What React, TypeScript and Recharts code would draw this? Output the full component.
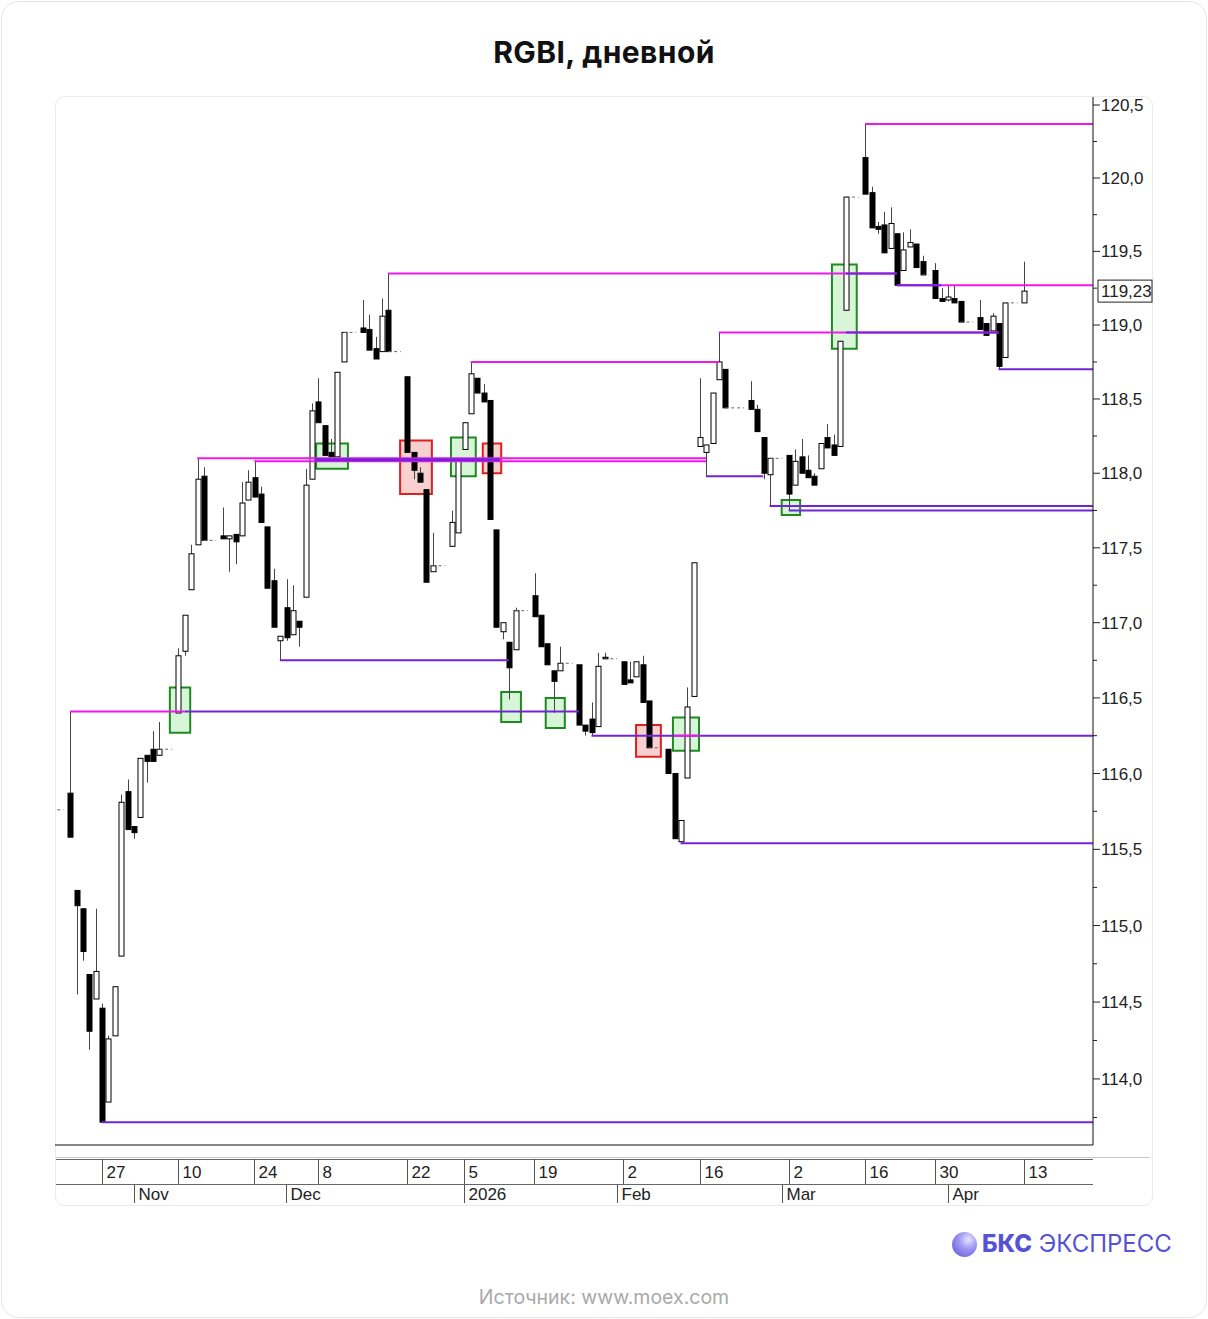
import React from 'react';
import {
  ComposedChart,
  Bar,
  Line,
  XAxis,
  YAxis,
  ReferenceLine,
  ReferenceArea,
} from 'recharts';

// ---- daily slots (null = no session that day) ----
const OPEN = [
  115.87, 115.23, 115.11, 114.68, 114.52, 114.46, 113.85, 114.28, 114.8, 115.88,
  115.65, 115.71, 116.12, 116.16, 116.12, null, null, 116.4, 116.81, 117.22,
  117.52, 117.98, null, null, 117.58, 117.56, 117.59, 117.58, 117.82, 117.97,
  117.86, 117.64, 117.28, 116.88, 117.1, 116.92, 117.01, 117.17, 117.96, 118.48,
  118.32, 118.14, 118.11, 118.75, null, null, 118.98, 118.97, 118.84, 118.82,
  119.1, null, null, 118.65, 118.14, 118.0, 117.89, 117.34, null, null,
  117.51, 117.6, 118.16, 118.4, 118.64, 118.54, 118.49, 117.62, 116.94, 116.87,
  116.82, null, null, 117.18, 117.05, 116.86, 116.68, 116.68, null, null,
  116.72, 116.32, 116.36, 116.31, 116.77, null, null, 116.74, 116.62, 116.64,
  116.72, 116.48, null, null, 116.16, 116.0, 115.55, 115.97, 116.51, 118.18,
  118.14, 118.2, 118.63, 118.7, null, null, null, 118.49, 118.43, 118.24,
  117.99, null, null, 118.12, 117.92, 118.11, 118.02, 117.98, 118.03, 118.24,
  118.19, 118.18, 119.1, null, null, 120.14, 119.9, 119.67, 119.68, 119.52,
  119.62, 119.37, 119.53, 119.55, 119.43, null, 119.37, 119.18, 119.17, 119.18,
  119.16, null, null, 119.05, 119.01, 118.96, 119.01, 118.78, null, null,
  119.15,
];
const HIGH = [
  116.41, 115.23, 115.11, 114.68, 115.11, 114.49, 114.28, 114.6, 115.86, 115.96,
  115.65, 116.1, 116.12, 116.28, 116.34, null, null, 116.83, 117.05, 117.52,
  118.1, 118.04, null, null, 117.77, 117.58, 117.59, 117.94, 118.02, 118.09,
  117.91, 117.64, 117.36, 116.91, 117.29, 117.25, 117.01, 118.03, 118.47, 118.64,
  118.32, 118.23, 118.68, 118.95, null, null, 119.17, 119.07, 118.92, 119.18,
  119.35, null, null, 118.65, 118.14, 118.04, 117.89, 117.6, null, null,
  117.75, 118.09, 118.34, 118.75, 118.64, 118.6, 118.49, 117.62, 117.0, 116.87,
  117.1, null, null, 117.33, 117.05, 116.86, 116.68, 116.84, null, null,
  116.72, 116.32, 116.47, 116.8, 116.8, null, null, 116.74, 116.74, 116.74,
  116.78, 116.48, null, null, 116.16, 116.0, 115.69, 116.57, 117.4, 118.64,
  118.19, 118.54, 118.95, 118.7, null, null, null, 118.62, 118.46, 118.24,
  118.1, null, null, 118.12, 118.16, 118.23, 118.12, 118.0, 118.2, 118.33,
  118.26, 118.89, 119.87, null, null, 120.37, 119.94, 119.7, 119.77, 119.8,
  119.62, 119.63, 119.65, 119.55, 119.47, null, 119.42, 119.25, 119.27, 119.27,
  119.16, null, null, 119.17, 119.01, 119.08, 119.01, 119.15, null, null,
  119.43,
];
const LOW = [
  115.58, 114.55, 114.77, 114.19, 114.52, 113.72, 113.85, 114.28, 114.8, 115.63,
  115.57, 115.71, 115.94, 116.08, 116.12, null, null, 116.4, 116.78, 117.22,
  117.52, 117.55, null, null, 117.56, 117.34, 117.39, 117.58, 117.82, 117.84,
  117.67, 117.23, 116.97, 116.75, 116.88, 116.92, 116.84, 117.17, 117.96, 118.34,
  118.12, 118.11, 118.11, 118.75, null, null, 118.95, 118.83, 118.77, 118.82,
  118.82, null, null, 118.14, 117.96, 117.94, 117.27, 117.34, null, null,
  117.51, 117.6, 118.16, 118.4, 118.54, 118.48, 117.69, 116.97, 116.89, 116.49,
  116.82, null, null, 117.04, 116.84, 116.72, 116.4, 116.68, null, null,
  116.32, 116.25, 116.25, 116.31, 116.76, null, null, 116.59, 116.6, 116.64,
  116.47, 116.17, null, null, 116.0, 115.57, 115.54, 115.97, 116.51, 118.18,
  117.98, 118.2, 118.63, 118.44, null, null, null, 118.43, 118.28, 117.96,
  117.78, null, null, 117.75, 117.92, 118.0, 117.97, 117.92, 118.03, 118.17,
  118.12, 118.18, 119.1, null, null, 119.89, 119.66, 119.62, 119.49, 119.52,
  119.27, 119.37, 119.53, 119.39, 119.34, null, 119.18, 119.16, 119.16, 119.15,
  119.02, null, null, 118.97, 118.93, 118.96, 118.7, 118.78, null, null,
  119.15,
];
const CLOSE = [
  115.58, 115.13, 114.83, 114.31, 114.7, 113.72, 114.26, 114.6, 115.81, 115.63,
  115.61, 116.1, 116.08, 116.08, 116.16, null, null, 116.78, 117.05, 117.46,
  117.96, 117.55, null, null, 117.56, 117.58, 117.54, 117.8, 117.94, 117.84,
  117.67, 117.23, 116.97, 116.91, 116.9, 117.08, 116.97, 117.92, 118.42, 118.34,
  118.12, 118.11, 118.68, 118.95, null, null, 118.95, 118.83, 118.77, 119.06,
  118.82, null, null, 118.14, 118.02, 117.94, 117.27, 117.38, null, null,
  117.67, 118.09, 118.34, 118.67, 118.54, 118.48, 117.69, 116.97, 117.0, 116.7,
  117.08, null, null, 117.04, 116.84, 116.72, 116.61, 116.73, null, null,
  116.32, 116.28, 116.27, 116.71, 116.76, null, null, 116.59, 116.6, 116.74,
  116.47, 116.17, null, null, 116.0, 115.57, 115.69, 116.44, 117.4, 118.24,
  118.19, 118.54, 118.75, 118.44, null, null, null, 118.43, 118.28, 118.0,
  118.1, null, null, 117.86, 118.08, 118.0, 117.97, 117.92, 118.2, 118.17,
  118.12, 118.89, 119.87, null, null, 119.89, 119.66, 119.65, 119.49, 119.69,
  119.27, 119.51, 119.56, 119.39, 119.34, null, 119.18, 119.16, 119.19, 119.15,
  119.02, null, null, 118.97, 118.93, 119.06, 118.72, 119.15, null, null,
  119.23,
];
const PREV_CLOSE = 115.76; // close before the first visible session
const LAST_PRICE = 119.23;

// ---- time axis ----
const WEEK_SLOTS = [5, 17, 29, 39, 53, 62, 73, 87, 99, 113, 125, 136, 150];
const WEEK_LABELS = ['27', '10', '24', '8', '22', '5', '19', '2', '16', '2', '16', '30', '13'];
const MONTH_SLOTS = [10, 34, 62, 86, 112, 138];
const MONTH_LABELS = ['Nov', 'Dec', '2026', 'Feb', 'Mar', 'Apr'];
const X_MIN = -2.36;
const X_MAX = 160.85;

// ---- price axis (log) ----
const PRICE_TICKS = [
  113.75, 114, 114.25, 114.5, 114.75, 115, 115.25, 115.5, 115.75, 116, 116.25,
  116.5, 116.75, 117, 117.25, 117.5, 117.75, 118, 118.25, 118.5, 118.75, 119,
  119.25, 119.5, 119.75, 120, 120.25, 120.5,
];
const Y_MIN = 113.572;
const Y_MAX = 120.555;

// ---- levels: resistance (r) / support (s) ----
const LEVEL_PRICE = [116.41, 116.41, 118.1, 118.08, 118.09, 119.35, 118.75, 118.95, 120.37, 119.27, 113.72, 116.75, 116.25, 116.25, 115.54, 117.98, 117.78, 117.75, 118.7, 119.35, 118.95, 119.27];
const LEVEL_FROM = [0, 18, 20, 29, 38.5, 50, 63, 102, 125, 130, 5, 33, 82, 95, 96, 100, 110, 113, 146, 122, 122, 130];
const LEVEL_TO = [18, 80, 100, 100, 67.6, 130, 102, 146, X_MAX, X_MAX, X_MAX, 69, X_MAX, 99, X_MAX, 109, X_MAX, X_MAX, X_MAX, 130, 146, 137];
const LEVEL_KIND = ['r', 's', 'r', 'r', 's', 'r', 'r', 'r', 'r', 'r', 's', 's', 's', 'r', 's', 's', 's', 's', 's', 's', 's', 's'];

// ---- signal boxes: buy (b) / sell (x) ----
const BOX_X1 = [15.7, 38.7, 59.9, 67.8, 74.8, 94.8, 111.9, 119.8, 51.9, 64.9, 89.0];
const BOX_X2 = [18.9, 43.7, 63.8, 70.9, 77.8, 98.9, 114.8, 123.7, 56.9, 67.8, 92.9];
const BOX_LOW = [116.27, 118.03, 117.98, 116.34, 116.3, 116.15, 117.72, 118.84, 117.86, 118.0, 116.11];
const BOX_HIGH = [116.57, 118.2, 118.24, 116.54, 116.5, 116.37, 117.82, 119.41, 118.22, 118.2, 116.32];
const BOX_KIND = ['b', 'b', 'b', 'b', 'b', 'b', 'b', 'b', 'x', 'x', 'x'];

const MAGENTA = '#ee18ee';
const PURPLE = '#7424d8';
const AXIS_FONT = '"Liberation Sans", Arial, sans-serif';

const data = [
  { slot: -2, range: null, gap: PREV_CLOSE },
  { slot: -1, range: null, gap: PREV_CLOSE },
  ...OPEN.map((o, i) => {
    const isCandle = o !== null;
    const nextEmpty = i + 1 < OPEN.length && OPEN[i + 1] === null;
    let gap: number | null = null;
    if (isCandle && nextEmpty) gap = CLOSE[i];
    if (!isCandle) {
      let k = i;
      while (k >= 0 && OPEN[k] === null) k--;
      gap = k >= 0 ? CLOSE[k] : PREV_CLOSE;
    }
    return {
      slot: i,
      open: o,
      high: HIGH[i],
      low: LOW[i],
      close: CLOSE[i],
      range: isCandle ? [LOW[i], HIGH[i]] : null,
      gap,
    };
  }),
];

function Candle(props: any) {
  const { x, y, width, height, payload } = props;
  if (!payload || payload.open == null || height == null) return null;
  const top = Math.min(y, y + height);
  const h = Math.abs(height);
  // log axis: place open/close by their log position inside the high-low span
  const lh = Math.log(payload.high);
  const ll = Math.log(payload.low);
  const span = lh - ll;
  const yOf = (v: number) => (span > 0 ? top + ((lh - Math.log(v)) / span) * h : top);
  const cx = Math.round(x + width / 2) + 0.5;
  const up = payload.close >= payload.open;
  const bTop = yOf(Math.max(payload.open, payload.close));
  const bBot = yOf(Math.min(payload.open, payload.close));
  const bh = Math.max(bBot - bTop, 1.5);
  return (
    <g>
      <line x1={cx} x2={cx} y1={top} y2={top + h} stroke="#444" strokeWidth={1} />
      <rect
        x={cx - 2.5}
        y={bTop}
        width={5}
        height={bh}
        fill={up ? '#fff' : '#000'}
        stroke="#000"
        strokeWidth={1}
      />
    </g>
  );
}

function PriceTick(props: any) {
  const { x, y, payload } = props;
  const v = payload.value as number;
  const major = Math.abs(v * 2 - Math.round(v * 2)) < 1e-6;
  return (
    <g>
      <line x1={x} x2={x + (major ? 7 : 4)} y1={y} y2={y} stroke="#222" />
      {major && (
        <text x={x + 8} y={y} dy="0.36em" fontSize={17} fontFamily={AXIS_FONT} fill="#222">
          {v.toFixed(1).replace('.', ',')}
        </text>
      )}
    </g>
  );
}

function WeekTick(props: any) {
  const { x, y, payload } = props;
  const idx = WEEK_SLOTS.indexOf(payload.value);
  const lx = Math.round(x) + 0.5;
  return (
    <g>
      <line x1={lx} x2={lx} y1={y + 14} y2={y + 39} stroke="#555" />
      <text x={lx + 4} y={y + 33} fontSize={17} fontFamily={AXIS_FONT} fill="#222">
        {WEEK_LABELS[idx]}
      </text>
    </g>
  );
}

function MonthTick(props: any) {
  const { x, y, payload } = props;
  const idx = MONTH_SLOTS.indexOf(payload.value);
  const lx = Math.round(x) + 0.5;
  return (
    <g>
      <line x1={lx} x2={lx} y1={y} y2={y + 18} stroke="#555" />
      <text x={lx + 4} y={y + 15} fontSize={17} fontFamily={AXIS_FONT} fill="#222">
        {MONTH_LABELS[idx]}
      </text>
    </g>
  );
}

function LastLabel(props: any) {
  const { viewBox } = props;
  if (!viewBox) return null;
  const x = viewBox.x + viewBox.width + 5;
  const y = viewBox.y;
  return (
    <g>
      <rect x={x} y={y - 11} width={54} height={22} fill="#fff" stroke="#222" />
      <text x={x + 3} y={y} dy="0.36em" fontSize={17} fontFamily={AXIS_FONT} fill="#222">
        {LAST_PRICE.toFixed(2).replace('.', ',')}
      </text>
    </g>
  );
}

export default function App() {
  return (
    <div
      style={{
        position: 'absolute',
        left: 0,
        top: 0,
        width: 1208,
        height: 1319,
        background: '#fff',
        fontFamily: 'Inter, "Noto Sans", sans-serif',
      }}
    >
      <div
        style={{
          position: 'absolute',
          left: 1,
          top: 1,
          width: 1204,
          height: 1315,
          border: '1px solid #e4e4e4',
          borderRadius: 18,
        }}
      />
      <div
        style={{
          position: 'absolute',
          left: 0,
          top: 32,
          width: 1208,
          textAlign: 'center',
          fontSize: 30,
          fontWeight: 700,
          letterSpacing: 0.4,
          color: '#111',
          lineHeight: '40px',
        }}
      >
        RGBI, дневной
      </div>
      <div
        style={{
          position: 'absolute',
          left: 55,
          top: 96,
          width: 1096,
          height: 1108,
          border: '1px solid #ebebeb',
          borderRadius: 10,
        }}
      />
      {/* axis frame lines */}
      <div style={{ position: 'absolute', left: 56, top: 1157, width: 1094, height: 1, background: '#c8c8c8' }} />
      <div style={{ position: 'absolute', left: 56, top: 1159, width: 1037, height: 1, background: '#666' }} />
      <div style={{ position: 'absolute', left: 56, top: 1184, width: 1037, height: 1, background: '#666' }} />

      <div style={{ position: 'absolute', left: 0, top: 0 }}>
        <ComposedChart
          width={1208}
          height={1319}
          data={data}
          margin={{ top: 97, right: 55, bottom: 114, left: 55 }}
        >
          <XAxis
            dataKey="slot"
            type="number"
            domain={[X_MIN, X_MAX]}
            allowDataOverflow
            ticks={WEEK_SLOTS}
            interval={0}
            tick={<WeekTick />}
            tickLine={false}
            tickSize={0}
            tickMargin={0}
            axisLine={{ stroke: '#111' }}
            height={40}
          />
          <XAxis
            xAxisId="m"
            dataKey="slot"
            type="number"
            domain={[X_MIN, X_MAX]}
            allowDataOverflow
            ticks={MONTH_SLOTS}
            interval={0}
            tick={<MonthTick />}
            tickLine={false}
            tickSize={0}
            tickMargin={0}
            axisLine={false}
            height={20}
          />
          <YAxis
            orientation="right"
            type="number"
            scale="log"
            domain={[Y_MIN, Y_MAX]}
            allowDataOverflow
            ticks={PRICE_TICKS}
            interval={0}
            tick={<PriceTick />}
            tickLine={false}
            tickSize={0}
            tickMargin={0}
            axisLine={{ stroke: '#111' }}
            width={60}
          />

          {BOX_X1.map((x1, i) => (
            <ReferenceArea
              key={`box-${i}`}
              x1={x1}
              x2={BOX_X2[i]}
              y1={BOX_LOW[i]}
              y2={BOX_HIGH[i]}
              fill={BOX_KIND[i] === 'b' ? '#9be89b' : '#f08a8a'}
              fillOpacity={0.4}
              stroke={BOX_KIND[i] === 'b' ? '#1f8a1f' : '#e02020'}
              strokeWidth={2}
              ifOverflow="visible"
            />
          ))}

          {LEVEL_PRICE.map((p, i) => (
            <ReferenceLine
              key={`lvl-${i}`}
              segment={[
                { x: LEVEL_FROM[i], y: p },
                { x: LEVEL_TO[i], y: p },
              ]}
              stroke={LEVEL_KIND[i] === 'r' ? MAGENTA : PURPLE}
              strokeWidth={i === 4 ? 3 : 2}
              ifOverflow="visible"
            />
          ))}

          <ReferenceLine y={LAST_PRICE} stroke="none" label={<LastLabel />} />

          <Line
            dataKey="gap"
            type="linear"
            stroke="#666"
            strokeWidth={1}
            strokeDasharray="3 3"
            dot={false}
            activeDot={false}
            connectNulls={false}
            isAnimationActive={false}
          />
          <Bar
            dataKey="range"
            barSize={5}
            shape={<Candle />}
            isAnimationActive={false}
          />
        </ComposedChart>
      </div>

      {/* brand */}
      <div
        style={{
          position: 'absolute',
          left: 952,
          top: 1232,
          width: 25,
          height: 25,
          borderRadius: '50%',
          background: 'radial-gradient(circle at 65% 30%, #e6e4ff 0%, #9d97f0 40%, #5b4fd6 100%)',
        }}
      />
      <div
        style={{
          position: 'absolute',
          left: 982,
          top: 1229,
          fontSize: 24,
          lineHeight: '30px',
          color: '#5552d6',
          whiteSpace: 'nowrap',
        }}
      >
        <span style={{ fontWeight: 800 }}>БКС</span> ЭКСПРЕСС
      </div>
      <div
        style={{
          position: 'absolute',
          left: 0,
          top: 1284,
          width: 1208,
          textAlign: 'center',
          fontSize: 19.5,
          color: '#a9a9a9',
          lineHeight: '26px',
        }}
      >
        Источник: www.moex.com
      </div>
    </div>
  );
}
